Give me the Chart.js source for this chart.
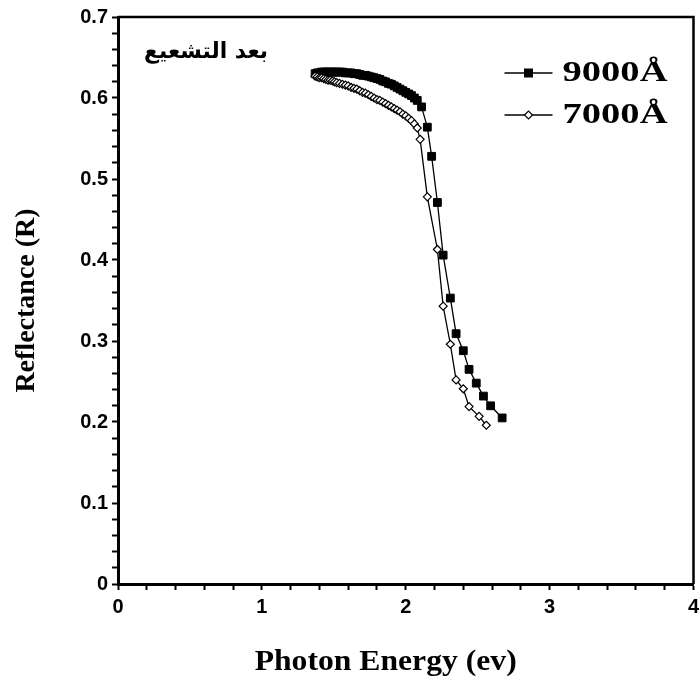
<!DOCTYPE html>
<html>
<head>
<meta charset="utf-8">
<script src="https://cdn.jsdelivr.net/npm/chart.js@4.4.1/dist/chart.umd.min.js"></script>
<style>
html,body{margin:0;padding:0;background:#fff}
#wrap{width:700px;height:687px}
</style>
</head>
<body>
<div id="wrap"><canvas id="chart"></canvas></div>
<script>
// reflectance after irradiation, two wavelengths
const energy9000=[1.37,1.385,1.40,1.415,1.43,1.445,1.46,1.475,1.49,1.505,1.52,1.54,1.56,1.58,1.60,1.62,1.64,1.66,1.68,1.70,1.72,1.74,1.76,1.78,1.80,1.82,1.84,1.86,1.88,1.90,1.92,1.94,1.96,1.98,2.00,2.02,2.04,2.06,2.08,2.11,2.15,2.18,2.22,2.26,2.31,2.35,2.40,2.44,2.49,2.54,2.59,2.67]
const refl9000=[0.630,0.631,0.631,0.632,0.632,0.632,0.632,0.632,0.632,0.632,0.632,0.632,0.632,0.631,0.631,0.631,0.630,0.630,0.629,0.628,0.628,0.627,0.626,0.625,0.624,0.623,0.621,0.620,0.618,0.617,0.615,0.613,0.611,0.609,0.607,0.605,0.603,0.600,0.597,0.589,0.564,0.528,0.471,0.406,0.353,0.309,0.288,0.265,0.248,0.232,0.220,0.205]

const energy7000=[1.37,1.385,1.40,1.415,1.43,1.445,1.46,1.475,1.49,1.505,1.52,1.54,1.56,1.58,1.60,1.62,1.64,1.66,1.68,1.70,1.72,1.74,1.76,1.78,1.80,1.82,1.84,1.86,1.88,1.90,1.92,1.94,1.96,1.98,2.00,2.02,2.04,2.06,2.08,2.10,2.15,2.22,2.26,2.31,2.35,2.40,2.44,2.51,2.56]
const refl7000=[0.627,0.626,0.625,0.625,0.624,0.623,0.622,0.622,0.621,0.620,0.619,0.618,0.617,0.616,0.615,0.613,0.612,0.611,0.609,0.607,0.606,0.604,0.602,0.600,0.598,0.597,0.595,0.593,0.591,0.589,0.587,0.585,0.583,0.580,0.578,0.575,0.572,0.568,0.563,0.549,0.478,0.413,0.343,0.296,0.252,0.241,0.219,0.207,0.196]

const seriesNames=["9000Å","7000Å"]
const xTickLabels=[0,1,2,3,4]
const yTickLabels=[0,0.1,0.2,0.3,0.4,0.5,0.6,0.7]
const xTitle="Photon Energy (ev)"
const note="بعد التشعيع"

function pts(xs,ys){
return xs.map((x,i)=>({x:x,y:ys[i]}))
}

function isLabel(list,v){
return list.some(t=>Math.abs(t-v)<1e-6)
}

// text squeezed/stretched to a given width
function fitText(ctx,text,font,x,y,w){
ctx.save()
ctx.font=font
const m=ctx.measureText(text).width
ctx.translate(x,y)
ctx.scale(w/m,1)
ctx.textAlign="left"
ctx.textBaseline="middle"
ctx.fillStyle="#000"
ctx.fillText(text,0,0)
ctx.restore()
}

const framePlugin={
id:"frame",
afterDatasetsDraw(chart){
const {ctx,chartArea:a}=chart
ctx.save()
ctx.strokeStyle="#000"
ctx.lineWidth=2.5
ctx.beginPath()
ctx.moveTo(a.left,a.top)
ctx.lineTo(a.right,a.top)
ctx.lineTo(a.right,a.bottom)
ctx.stroke()
ctx.restore()
}
}

const legendPlugin={
id:"boxLegend",
afterDraw(chart){
const {ctx,chartArea:a}=chart
chart.data.datasets.forEach((ds,i)=>{
const y=a.top+56+i*42
const x0=a.right-189
const x1=a.right-141
ctx.save()
ctx.strokeStyle="#000"
ctx.lineWidth=1.5
ctx.beginPath()
ctx.moveTo(x0,y)
ctx.lineTo(x1,y)
ctx.stroke()
ctx.fillStyle=ds.pointBackgroundColor
ctx.strokeStyle="#000"
ctx.lineWidth=1.2
Chart.helpers.drawPoint(ctx,{pointStyle:ds.pointStyle,radius:ds.pointRadius,borderWidth:1.2,rotation:0},(x0+x1)/2,y)
ctx.restore()
fitText(ctx,ds.label,"bold 29px 'Liberation Serif'",a.right-131,y+1,105)
})
fitText(ctx,note,"bold 22px 'DejaVu Sans'",a.left+26,a.top+35,124)
// x axis title, sits a little left of the axis centre
const xs=chart.scales.x
fitText(ctx,xTitle,"bold 30px 'Liberation Serif'",xs.getPixelForValue(0.95),662,262)
}
}

new Chart(document.getElementById("chart"),{
type:"line",
data:{
datasets:[
{
label:seriesNames[0],
data:pts(energy9000,refl9000),
borderColor:"#000",
borderWidth:1.3,
pointStyle:"rect",
pointRadius:5.5,
pointBackgroundColor:"#000",
pointBorderColor:"#000",
pointBorderWidth:1,
order:2
},
{
label:seriesNames[1],
data:pts(energy7000,refl7000),
borderColor:"#000",
borderWidth:1.3,
pointStyle:"rectRot",
pointRadius:4,
pointBackgroundColor:"#fff",
pointBorderColor:"#000",
pointBorderWidth:1.2,
order:1
}
]
},
options:{
responsive:true,
maintainAspectRatio:false,
animation:false,
layout:{padding:{top:17,right:6,left:0,bottom:0}},
plugins:{legend:{display:false},tooltip:{enabled:false}},
scales:{
x:{
type:"linear",
min:0,
max:4,
afterFit(s){s.height=103;s.paddingRight=0;s.paddingLeft=0},
ticks:{
stepSize:0.2,
autoSkip:false,
maxRotation:0,
padding:5,
color:"#000",
font:{family:"'Liberation Sans'",size:20,weight:"bold"},
callback:v=>isLabel(xTickLabels,v)?String(Math.round(v)):""
},
grid:{drawOnChartArea:false,drawTicks:true,tickLength:6,tickWidth:2,tickColor:"#000"},
border:{display:true,color:"#000",width:3}
},
y:{
min:0,
max:0.7,
afterFit(s){s.width=118;s.paddingTop=0},
ticks:{
stepSize:0.02,
autoSkip:false,
padding:4,
color:"#000",
font:{family:"'Liberation Sans'",size:20,weight:"bold"},
callback:v=>isLabel(yTickLabels,v)?(Math.abs(v)<1e-6?"0":v.toFixed(1)):""
},
grid:{drawOnChartArea:false,drawTicks:true,tickLength:6,tickWidth:2,tickColor:"#000"},
border:{display:true,color:"#000",width:3},
title:{display:true,text:"Reflectance (R)",color:"#000",
font:{family:"'Liberation Serif'",size:28,weight:"bold"},padding:{top:10,bottom:0}}
}
}
},
plugins:[framePlugin,legendPlugin]
})
</script>
</body>
</html>
